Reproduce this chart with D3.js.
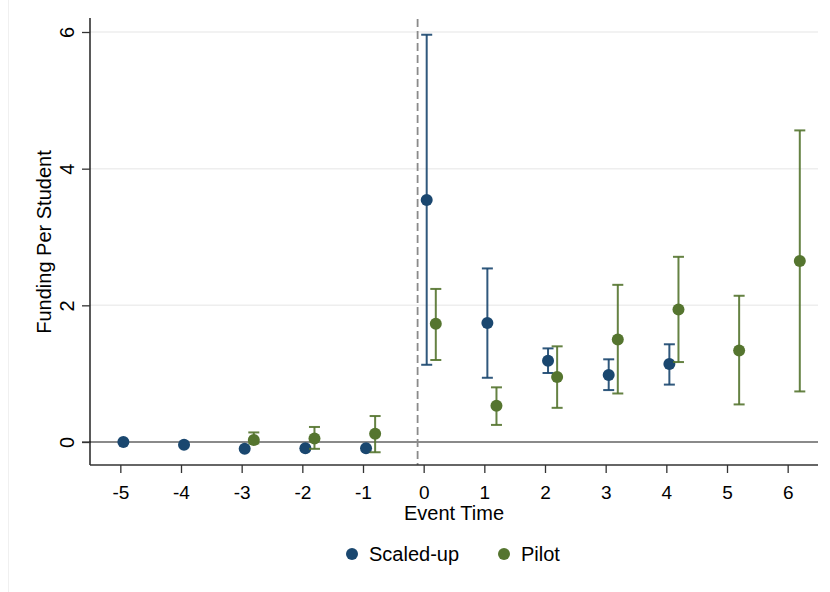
<!DOCTYPE html>
<html>
<head>
<meta charset="utf-8">
<script src="https://cdn.jsdelivr.net/npm/d3@7"></script>
<style>
  body { margin: 0; background: #fff; }
  text { font-family: Arial, "Liberation Sans", sans-serif; fill: #000; }
</style>
</head>
<body>
<svg id="svg_main" width="830" height="592"></svg>
<script>
// event time periods
var scaled_time = [-5, -4, -3, -2, -1, 0, 1, 2, 3, 4]
var scaled_est  = [0.00, -0.04, -0.10, -0.09, -0.09, 3.54, 1.74, 1.19, 0.98, 1.14]
var scaled_lo   = [null, null, null, null, null, 1.13, 0.94, 1.01, 0.76, 0.84]
var scaled_hi   = [null, null, null, null, null, 5.96, 2.54, 1.37, 1.21, 1.43]

var pilot_time = [-3, -2, -1, 0, 1, 2, 3, 4, 5, 6]
var pilot_est  = [0.03, 0.05, 0.12, 1.73, 0.53, 0.95, 1.50, 1.94, 1.34, 2.65]
var pilot_lo   = [-0.02, -0.10, -0.15, 1.20, 0.25, 0.50, 0.71, 1.17, 0.55, 0.74]
var pilot_hi   = [0.14, 0.22, 0.38, 2.24, 0.80, 1.40, 2.30, 2.71, 2.14, 4.56]

var x_ticks = [-5, -4, -3, -2, -1, 0, 1, 2, 3, 4, 5, 6]
var y_ticks = [0, 2, 4, 6]
var legend_labels = ['Scaled-up', 'Pilot']

const navy = '#1a476f', green = '#55752f';

const margin = { top: 10, right: 12, bottom: 127, left: 90 };
const width = 830 - margin.left - margin.right,
      height = 592 - margin.top - margin.bottom;

var svg = d3.select('#svg_main')

// faint outer frame like the stata graph region
svg.append('line').attr('x1', 8.5).attr('x2', 8.5).attr('y1', 0).attr('y2', 592)
    .attr('stroke', '#f0f0f0').attr('stroke-width', 1)

var g = svg.append('g').attr('transform', 'translate(' + margin.left + ',' + margin.top + ')')

var x = d3.scaleLinear().domain([-5.5, 6.5]).range([0, 728])
var y = d3.scaleLinear().domain([0, 6]).range([432, 22])

// gridlines
g.append('g').selectAll('line').data(y_ticks.filter(function(t){ return t != 0 }))
    .enter().append('line')
    .attr('x1', 0).attr('x2', 728)
    .attr('y1', function(d){ return y(d) }).attr('y2', function(d){ return y(d) })
    .attr('stroke', '#eeeeee').attr('stroke-width', 1.5)

// zero line
g.append('line').attr('x1', -8).attr('x2', 728).attr('y1', y(0)).attr('y2', y(0))
    .attr('stroke', '#8a8a8a').attr('stroke-width', 1.8)

// treatment line
g.append('line').attr('x1', x(-0.1)).attr('x2', x(-0.1)).attr('y1', 9).attr('y2', 455)
    .attr('stroke', '#8a8a8a').attr('stroke-width', 1.8).attr('stroke-dasharray', '8,4')

// axes
var yAxis = g.append('g').call(d3.axisLeft(y).tickValues(y_ticks).tickSize(8)
    .tickFormat(function(d){ return String(d) }))
yAxis.select('.domain').attr('d', 'M0,8V455').attr('stroke', '#000').attr('stroke-width', 1.3)
yAxis.selectAll('.tick line').attr('stroke', '#333').attr('stroke-width', 1.3)
yAxis.selectAll('.tick text')
    .attr('font-size', 20).attr('transform', 'rotate(-90)')
    .attr('x', 0).attr('y', -16).attr('dy', 0).attr('text-anchor', 'middle')

var xAxis = g.append('g').attr('transform', 'translate(0,455)')
    .call(d3.axisBottom(x).tickValues(x_ticks).tickSize(8).tickPadding(13)
    .tickFormat(function(d){ return String(d) }))
xAxis.select('.domain').attr('d', 'M0,0H728').attr('stroke', '#333').attr('stroke-width', 1.3)
xAxis.selectAll('.tick line').attr('stroke', '#333').attr('stroke-width', 1.3)
xAxis.selectAll('.tick text').attr('font-size', 19).attr('dy', '0.71em')

// axis titles
g.append('text').attr('x', 364).attr('y', 509.5).attr('text-anchor', 'middle')
    .attr('font-size', 20).text('Event Time')
g.append('text').attr('transform', 'translate(-39.5,232) rotate(-90)')
    .attr('text-anchor', 'middle').attr('font-size', 20).text('Funding Per Student')

// series
function drawSeries(time, est, lo, hi, offset, color) {
    var rows = time.map(function(t, i){ return { t: t + offset, est: est[i], lo: lo[i], hi: hi[i] } })
    var bars = rows.filter(function(d){ return d.lo != null })
    var s = g.append('g')
    s.selectAll('.ci').data(bars).enter().append('line')
        .attr('x1', function(d){ return x(d.t) }).attr('x2', function(d){ return x(d.t) })
        .attr('y1', function(d){ return y(d.lo) }).attr('y2', function(d){ return y(d.hi) })
        .attr('stroke', color).attr('stroke-width', 2).attr('opacity', 0.9)
    ;['lo', 'hi'].forEach(function(k){
        s.selectAll('.cap' + k).data(bars).enter().append('line')
            .attr('x1', function(d){ return x(d.t) - 5.5 }).attr('x2', function(d){ return x(d.t) + 5.5 })
            .attr('y1', function(d){ return y(d[k]) }).attr('y2', function(d){ return y(d[k]) })
            .attr('stroke', color).attr('stroke-width', 2).attr('opacity', 0.9)
    })
    s.selectAll('circle').data(rows).enter().append('circle')
        .attr('cx', function(d){ return x(d.t) }).attr('cy', function(d){ return y(d.est) })
        .attr('r', 6).attr('fill', color)
}
drawSeries(scaled_time, scaled_est, scaled_lo, scaled_hi, 0.05, navy)
drawSeries(pilot_time, pilot_est, pilot_lo, pilot_hi, 0.2, green)

// legend
var leg = svg.append('g')
var legX = [352, 504]
legend_labels.forEach(function(l, i){
    leg.append('circle').attr('cx', legX[i]).attr('cy', 554).attr('r', 6)
        .attr('fill', i == 0 ? navy : green)
    leg.append('text').attr('x', legX[i] + 17).attr('y', 561).attr('font-size', 20).text(l)
})
</script>
</body>
</html>
